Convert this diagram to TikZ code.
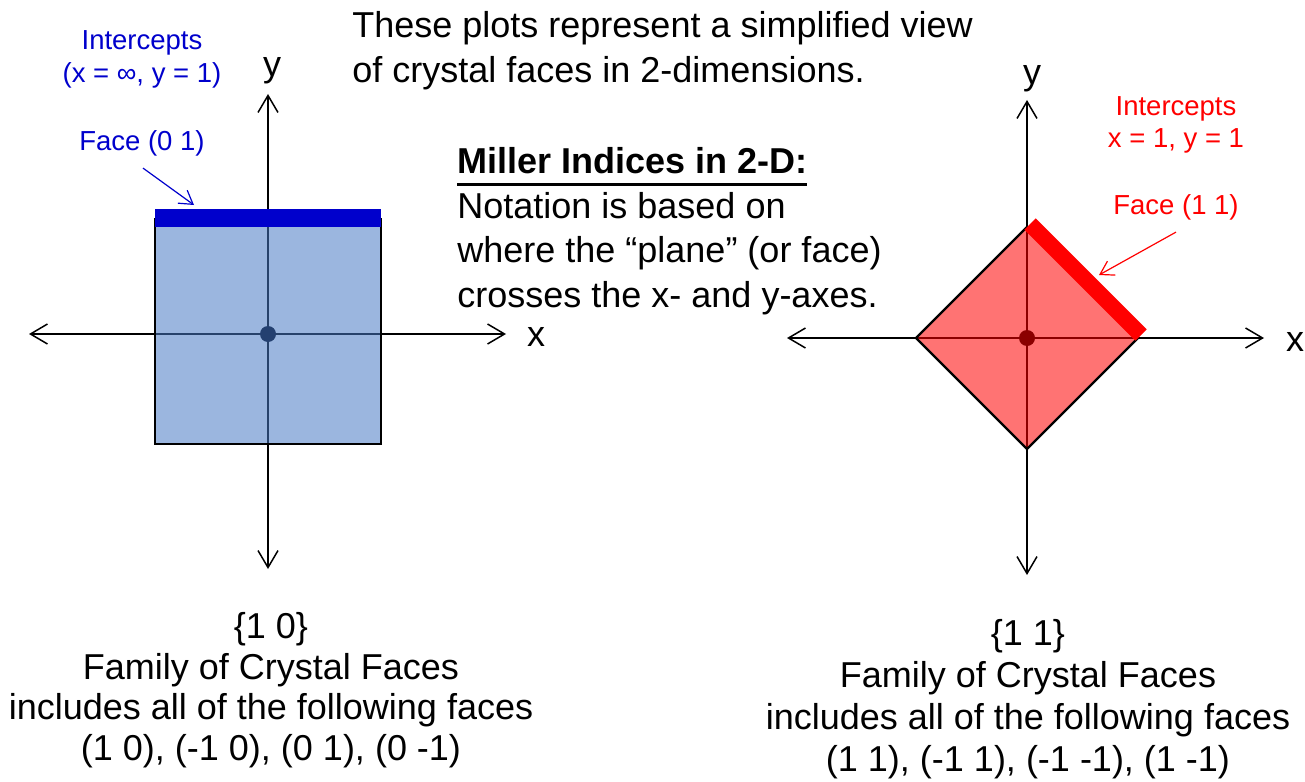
\documentclass[tikz,border=0pt]{standalone}
\usepackage{fontspec}
\setmainfont{Liberation Sans}
\usetikzlibrary{arrows.meta}
\definecolor{faceblue}{RGB}{0,0,204}
\definecolor{fillblue}{RGB}{72,122,196}
\definecolor{dotblue}{RGB}{36,64,112}
\definecolor{facered}{RGB}{255,0,0}
\definecolor{dotred}{RGB}{139,0,0}
\newcommand{\ulbar}[1]{\setbox0\hbox{#1}\rlap{#1}\rule[-6.25pt]{\wd0}{1.5pt}}

\begin{document}
\begin{tikzpicture}[x=0.5pt,y=-0.5pt,
  every node/.style={inner sep=0pt,font=\fontsize{18}{21}\selectfont},
  axis/.style={line width=0.75pt,{Straight Barb[length=8.5pt,width=10pt]}-{Straight Barb[length=8.5pt,width=10pt]}},
  lab/.style={font=\fontsize{13.75}{16.5}\selectfont,align=center,anchor=base},
  pointer/.style={line width=0.6pt,-{Straight Barb[length=6.5pt,width=8pt]}},
  border/.style={draw=black,line width=1.1pt,line join=miter}]
  \useasboundingbox (0,0) rectangle (1305,781);

  % left plot: face (0 1)
  \coordinate (lo) at (268,334);
  \coordinate (lxl) at (29,334);
  \coordinate (lxr) at (506,334);
  \coordinate (lyt) at (268,94);
  \coordinate (lyb) at (268,569);
  \draw[axis] (lxl) -- (lxr);
  \draw[axis] (lyb) -- (lyt);
  \fill[fillblue,fill opacity=0.55] (155,218) rectangle (381,444);
  \draw[border] (155,218) -- (155,444) -- (381,444) -- (381,218);
  \draw[faceblue,line width=9pt] (155,218) -- (381,218);
  \fill[dotblue] (lo) circle (4pt);
  \node[anchor=base] (ly) at (272,76) {y};
  \node[anchor=base] (lx) at (536,346) {x};
  \node[lab,text=faceblue] (lint) at (142,83) {Intercepts\\(x = ∞, y = 1)};
  \node[lab,text=faceblue] (face01) at (142,150) {Face (0 1)};
  \coordinate (bluetip) at (194,205);
  \draw[pointer,faceblue] ([xshift=0.5pt,yshift=-6pt]face01.south) -- (bluetip);

  % right plot: face (1 1)
  \coordinate (ro) at (1027,338);
  \coordinate (rxl) at (787,338);
  \coordinate (rxr) at (1264,338);
  \coordinate (ryt) at (1027,100);
  \coordinate (ryb) at (1027,575);
  \coordinate (dl) at (916,338);
  \coordinate (dt) at (1027,227);
  \coordinate (dr) at (1138,338);
  \coordinate (db) at (1027,449);
  \draw[axis] (rxl) -- (rxr);
  \draw[axis] (ryb) -- (ryt);
  \fill[facered,fill opacity=0.55] (dl) -- (dt) -- (dr) -- (db) -- cycle;
  \draw[border] (dt) -- (dl) -- (db) -- (dr);
  \draw[facered,line width=8pt] ([shift={(3,-3)}]dt) -- ([shift={(3,-3)}]dr);
  \fill[dotred] (ro) circle (4pt);
  \node[anchor=base] (ry) at (1032,84) {y};
  \node[anchor=base] (rx) at (1295,351) {x};
  \node[lab,text=facered] (rint) at (1176,148) {Intercepts\\x = 1, y = 1};
  \node[lab,text=facered] (face11) at (1176,214) {Face (1 1)};
  \coordinate (redtip) at (1099,275);
  \draw[pointer,facered] ([yshift=-6pt]face11.south) -- (redtip);

  % text
  \node[anchor=base west,align=left,font=\fontsize{18}{22.5}\selectfont] (intro) at (352,83)
    {These plots represent a simplified view\\of crystal faces in 2-dimensions.};
  \node[anchor=base west,align=left,font=\fontsize{18}{22.2}\selectfont] (miller) at (457,307)
    {\ulbar{\bfseries Miller Indices in 2-D:}\\Notation is based on\\where the “plane” (or face)\\crosses the x- and y-axes.};
  \node[anchor=base,align=center,font=\fontsize{18}{20.2}\selectfont] (fam10) at (271,760)
    {\{1 0\}\\Family of Crystal Faces\\includes all of the following faces\\(1 0), (-1 0), (0 1), (0 -1)};
  \node[anchor=base,align=center,font=\fontsize{18}{21}\selectfont] (fam11) at (1028,771)
    {\{1 1\}\\Family of Crystal Faces\\includes all of the following faces\\(1 1), (-1 1), (-1 -1), (1 -1)};
\end{tikzpicture}
\end{document}
